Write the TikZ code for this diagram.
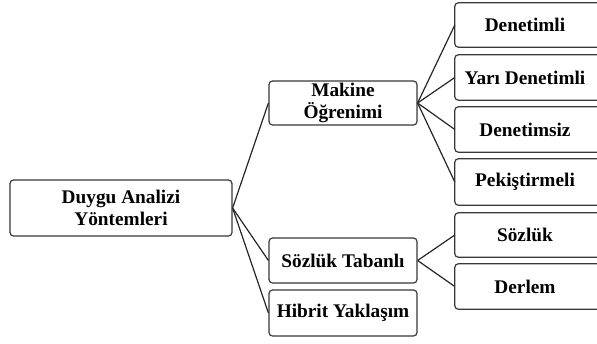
\documentclass[tikz,border=0pt]{standalone}
\usepackage{fontspec}
\setmainfont{Liberation Serif}
\begin{document}
\begin{tikzpicture}[x=1pt,y=-1pt,
  boxline/.style={draw=black!78, line width=1.2pt, rounded corners=3.5pt},
  box/.style={boxline, fill=white, align=center, inner sep=0pt,
    font=\fontsize{19.3}{21.5}\selectfont\bfseries},
  leaf/.style={align=center, inner sep=0pt, minimum width=140pt,
    font=\fontsize{19.3}{21.5}\selectfont\bfseries},
  link/.style={draw=black!85, line width=1.2pt}]
\useasboundingbox (0,0) rectangle (597,343);
\clip (0,0) rectangle (597,343);

% first and second level
\node[box, minimum width=222pt, minimum height=56pt] (root) at (121,208)
  {Duygu Analizi\\Yöntemleri};
\node[box, minimum width=148pt, minimum height=44pt] (ml) at (343,103)
  {Makine\\Öğrenimi};
\node[box, minimum width=148pt, minimum height=45pt] (lex) at (343,260.5)
  {Sözlük Tabanlı};
\node[box, minimum width=148pt, minimum height=46pt] (hyb) at (343,313)
  {Hibrit Yaklaşım};

% third level: text nodes, outlines run past the right edge
\node[leaf, minimum height=44pt] (d1) at (525,25) {Denetimli};
\node[leaf, minimum height=45pt] (d2) at (525,77.5) {Yarı Denetimli};
\node[leaf, minimum height=45pt] (d3) at (525,129.5) {Denetimsiz};
\node[leaf, minimum height=46pt] (d4) at (525,182) {Pekiştirmeli};
\node[leaf, minimum height=44pt] (s1) at (525,235) {Sözlük};
\node[leaf, minimum height=45pt] (s2) at (525,286.5) {Derlem};
\foreach \n in {d1,d2,d3,d4,s1,s2}
  \draw[boxline] (\n.north west) rectangle ([xshift=15pt]\n.south east);

% connectors
\foreach \c in {ml,lex,hyb}
  \draw[link] (root.east) -- (\c.west);
\foreach \c in {d1,d2,d3,d4}
  \draw[link] (ml.east) -- (\c.west);
\foreach \c in {s1,s2}
  \draw[link] (lex.east) -- (\c.west);
\end{tikzpicture}
\end{document}
